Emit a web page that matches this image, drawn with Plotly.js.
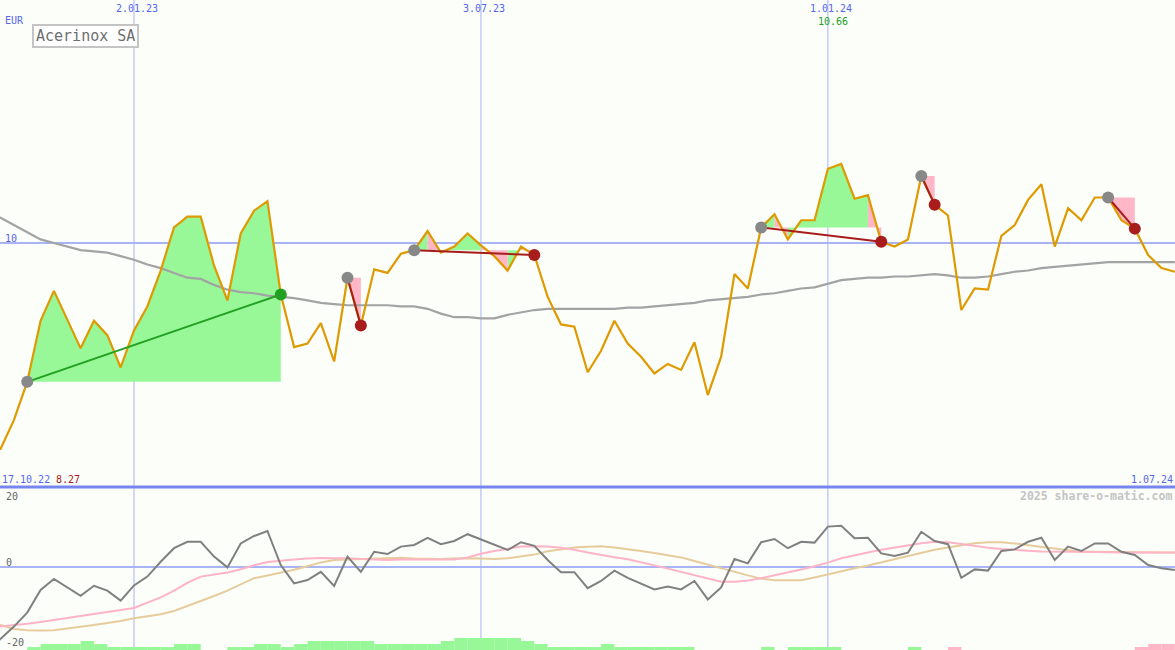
<!DOCTYPE html>
<html><head><meta charset="utf-8">
<script src="https://cdn.plot.ly/plotly-3.0.1.min.js"></script>
<style>html,body{margin:0;padding:0;background:#fbfef9;}#chart{width:1175px;height:650px;}</style>
</head><body><div id="chart"></div>
<script>
const dates = [
'2022-10-17','2022-10-24','2022-10-31','2022-11-07','2022-11-14','2022-11-21','2022-11-28','2022-12-05','2022-12-12','2022-12-19',
'2022-12-26','2023-01-02','2023-01-09','2023-01-16','2023-01-23','2023-01-30','2023-02-06','2023-02-13','2023-02-20','2023-02-27',
'2023-03-06','2023-03-13','2023-03-20','2023-03-27','2023-04-03','2023-04-10','2023-04-17','2023-04-24','2023-05-01','2023-05-08',
'2023-05-15','2023-05-22','2023-05-29','2023-06-05','2023-06-12','2023-06-19','2023-06-26','2023-07-03','2023-07-10','2023-07-17',
'2023-07-24','2023-07-31','2023-08-07','2023-08-14','2023-08-21','2023-08-28','2023-09-04','2023-09-11','2023-09-18','2023-09-25',
'2023-10-02','2023-10-09','2023-10-16','2023-10-23','2023-10-30','2023-11-06','2023-11-13','2023-11-20','2023-11-27','2023-12-04',
'2023-12-11','2023-12-18','2023-12-25','2024-01-01','2024-01-08','2024-01-15','2024-01-22','2024-01-29','2024-02-05','2024-02-12',
'2024-02-19','2024-02-26','2024-03-04','2024-03-11','2024-03-18','2024-03-25','2024-04-01','2024-04-08','2024-04-15','2024-04-22',
'2024-04-29','2024-05-06','2024-05-13','2024-05-20','2024-05-27','2024-06-03','2024-06-10','2024-06-17','2024-06-24','2024-07-01'];

const price = [
8.27,8.28,8.52,8.84,9.35,9.60,9.36,9.12,9.35,9.23,
8.96,9.27,9.47,9.77,10.13,10.22,10.22,9.81,9.52,10.08,
10.27,10.35,9.57,9.13,9.16,9.33,9.01,9.71,9.31,9.78,
9.75,9.91,9.94,10.10,9.92,9.97,10.08,9.98,9.89,9.77,
9.97,9.90,9.55,9.32,9.30,8.92,9.10,9.35,9.16,9.05,
8.91,8.99,8.94,9.17,8.73,9.05,9.74,9.62,10.13,10.24,
10.03,10.19,10.19,10.62,10.66,10.37,10.40,10.01,9.97,10.03,
10.56,10.32,10.23,9.44,9.62,9.61,10.06,10.15,10.36,10.49,
9.97,10.29,10.19,10.38,10.38,10.19,10.12,9.90,9.79,9.76];

const movingAvg = [
10.26,10.21,10.15,10.09,10.03,10.00,9.97,9.94,9.93,9.92,
9.89,9.86,9.82,9.79,9.75,9.71,9.70,9.65,9.61,9.59,
9.58,9.56,9.55,9.54,9.52,9.50,9.49,9.48,9.48,9.48,
9.48,9.47,9.47,9.45,9.41,9.38,9.38,9.37,9.37,9.40,
9.42,9.44,9.45,9.45,9.45,9.45,9.45,9.45,9.46,9.46,
9.47,9.48,9.49,9.50,9.52,9.53,9.54,9.55,9.57,9.58,
9.60,9.62,9.63,9.66,9.69,9.70,9.71,9.71,9.72,9.72,
9.73,9.74,9.73,9.71,9.71,9.72,9.74,9.76,9.77,9.79,
9.80,9.81,9.82,9.83,9.84,9.84,9.84,9.84,9.84,9.84];

const oscGray = [
-21,-18,-14.9,-11.4,-5.75,-3,-5.1,-7.2,-4.7,-5.9,
-8.4,-4.6,-2.4,1.3,4.7,6.3,6.3,2.6,-0.1,5.9,
7.75,9,0.5,-4.1,-3.25,-1.2,-4.75,2.6,-1.2,3.8,
3.25,5.1,5.5,7.3,5.7,6.5,8.2,6.9,5.7,4.25,
6.2,5.3,1.75,-1.3,-1.3,-5.3,-3.5,-0.9,-2.7,-4.1,
-5.6,-4.9,-5.6,-3.5,-8.1,-5.1,2,0.9,6.2,7,
4.7,6.3,6.1,10.1,10.3,7.2,7.3,3.4,2.75,3.6,
8.8,6.5,5.7,-2.7,-0.6,-0.9,4,4.4,6.3,7.3,
1.75,5.1,4,5.9,5.9,3.8,3,0.5,-0.3,-0.75];

const oscPink = [
-15.2,-14.9,-14.5,-14.2,-13.75,-13.25,-12.8,-12.3,-11.8,-11.3,
-10.8,-10.25,-8.9,-7.6,-5.9,-3.95,-2.4,-1.85,-1.4,-0.55,
0.45,1.25,1.65,1.9,2.1,2.25,2.2,2.2,2.0,1.85,
1.75,1.9,1.9,2.0,1.95,1.9,2.4,3.3,4.0,4.6,
5.1,5.2,5.15,4.8,4.3,3.6,2.95,2.45,1.95,1.25,
0.4,-0.4,-1.2,-1.95,-2.8,-3.7,-3.7,-3.35,-2.8,-2.1,
-1.4,-0.65,0.2,1.1,2.2,3.0,3.65,4.3,4.9,5.5,
5.95,6.3,6.2,5.75,5.25,4.8,4.5,4.2,4.05,3.9,
3.8,3.8,3.8,3.7,3.6,3.6,3.6,3.6,3.6,3.6];

const oscTan = [
-13.5,-14.5,-15.5,-15.8,-15.9,-15.8,-15.4,-15.0,-14.5,-14.0,
-13.5,-12.8,-12.3,-11.8,-11.0,-9.8,-8.6,-7.25,-5.9,-4.3,
-2.8,-2.15,-1.5,-0.7,0.2,1.15,1.75,1.85,1.95,2.1,
2.2,2.3,2.1,1.97,1.97,2.1,2.2,2.1,1.97,2.2,
2.6,3.1,3.95,4.4,4.85,5.05,5.2,4.85,4.5,4.0,
3.5,2.95,2.4,1.5,0.6,-0.35,-1.3,-2.1,-2.9,-3.3,
-3.3,-3.3,-2.6,-1.8,-1.05,-0.3,0.4,1.2,1.95,2.7,
3.55,4.3,4.9,5.45,5.95,6.2,6.2,5.9,5.4,5.0,
4.6,4.2,3.8,3.8,3.8,3.75,3.7,3.7,3.65,3.6];

// signed weekly histogram (positive = green, negative = pink)
const histogram = [
0,0,0,0.75,1.5,1.5,1.5,2.25,1.5,0.75,
0.75,0.75,0.75,0.75,1.5,1.5,0,0,0.75,0.75,
1.5,1.5,0.75,1.5,2.25,2.25,2.25,2.25,2.25,1.5,
1.5,1.5,1.5,1.5,2.25,3,3,3,3,3,
2.25,1.5,0.75,0.75,0.75,0.75,1.5,0.75,0.75,0.75,
0.75,0.75,0.75,0,0,0,0,0,0.75,0,
0.75,0.75,0.75,0.75,0,0,0,0,0,0.75,
0,0,-0.75,0,0,0,0,0,0,0,
0,0,0,0,0,0,-0.75,-1.5,-1.5,0];

// signal periods: [start index, end index]
const signalStart = [3,27,32,58,70,84];
const signalEnd   = [22,28,41,67,71,86];

const gridDates  = ['2023-01-02','2023-07-03','2024-01-01'];
const gridLabels = ['2.01.23','3.07.23','1.01.24'];
const stockName = 'Acerinox SA';
const currency = 'EUR';
const credit = '2025 share-o-matic.com';

const BG = '#fbfef9';
const BLUE = '#5566ee';
const GRID = '#a8b4f6';
const GREENF = '#98f898', PINKF = '#ffb6c6';
const RED = '#a81c1c', GREEN = '#22a022', GRAYDOT = '#888888';
const FONT = 'DejaVu Sans Mono';
const DAY = 86400000;

function fmt(d){const p=d.split('-');return String(+p[2])+'.'+p[1]+'.'+p[0].slice(2);}

// fills between price path and start level
const fG={x:[],y:[]}, fP={x:[],y:[]};
signalStart.forEach((s,n)=>{
  const e=signalEnd[n], base=price[s];
  let k=s;
  while(k<e){
    const up=price[k+1]>=base;
    let m=k;
    while(m<e && (price[m+1]>=base)===up) m++;
    const t=up?fG:fP;
    t.x.push(dates[k]); t.y.push(base);
    for(let j=k;j<=m;j++){t.x.push(dates[j]); t.y.push(price[j]);}
    t.x.push(dates[m]); t.y.push(base);
    t.x.push(null); t.y.push(null);
    k=m;
  }
});

const traces=[];
traces.push({x:fG.x,y:fG.y,type:'scatter',mode:'lines',fill:'toself',fillcolor:GREENF,line:{width:0,color:GREENF},hoverinfo:'skip',connectgaps:false});
traces.push({x:fP.x,y:fP.y,type:'scatter',mode:'lines',fill:'toself',fillcolor:PINKF,line:{width:0,color:PINKF},hoverinfo:'skip',connectgaps:false});
traces.push({x:dates,y:movingAvg,type:'scatter',mode:'lines',line:{color:'#a3a3a3',width:2.2}});
traces.push({x:dates,y:price,type:'scatter',mode:'lines',line:{color:'#de9a00',width:2.2}});
signalStart.forEach((s,n)=>{
  const e=signalEnd[n]; const gain=price[e]>price[s];
  traces.push({x:[dates[s],dates[e]],y:[price[s],price[e]],type:'scatter',mode:'lines',line:{color:gain?GREEN:RED,width:2}});
});
traces.push({x:signalStart.map(i=>dates[i]),y:signalStart.map(i=>price[i]),type:'scatter',mode:'markers',marker:{size:12,color:GRAYDOT,line:{width:0}}});
traces.push({x:signalEnd.map(i=>dates[i]),y:signalEnd.map(i=>price[i]),type:'scatter',mode:'markers',
  marker:{size:12,color:signalEnd.map((e,n)=>price[e]>price[signalStart[n]]?GREEN:RED),line:{width:0}}});

// bottom panel
const y2min=-20.75, y2max=20;
traces.push({x:dates.map(d=>Date.parse(d)+3.5*DAY),y:histogram.map(v=>Math.abs(v)),base:y2min,width:7*DAY,type:'bar',
  marker:{color:histogram.map(v=>v<0?PINKF:GREENF),line:{width:0}},xaxis:'x',yaxis:'y2',hoverinfo:'skip'});
traces.push({x:dates,y:oscTan,type:'scatter',mode:'lines',line:{color:'#e6cc9c',width:2},xaxis:'x',yaxis:'y2'});
traces.push({x:dates,y:oscPink,type:'scatter',mode:'lines',line:{color:'#ffb3c6',width:2},xaxis:'x',yaxis:'y2'});
traces.push({x:dates,y:oscGray,type:'scatter',mode:'lines',line:{color:'#808080',width:2},xaxis:'x',yaxis:'y2'});

const W=1175,H=650;
const px=x=>x/W, py=y=>1-y/H;
const split=py(487);

const shapes=[];
gridDates.forEach(d=>shapes.push({type:'line',xref:'x',yref:'paper',x0:d,x1:d,y0:0,y1:1,line:{color:GRID,width:1},layer:'below'}));
shapes.push({type:'line',xref:'paper',yref:'y',x0:0,x1:1,y0:10,y1:10,line:{color:GRID,width:2},layer:'below'});
shapes.push({type:'line',xref:'paper',yref:'y2',x0:0,x1:1,y0:0,y1:0,line:{color:GRID,width:2},layer:'below'});
shapes.push({type:'line',xref:'paper',yref:'paper',x0:0,x1:1,y0:split,y1:split,line:{color:'#7686ee',width:3},layer:'above'});
shapes.push({type:'rect',xref:'paper',yref:'paper',x0:px(33),x1:px(138),y0:py(25),y1:py(47),line:{color:'#c4c4c4',width:2},fillcolor:'#ffffff',layer:'above'});

const ann=[];
function A(text,x,y,xa,color,size,extra){ann.push(Object.assign({text:text,xref:'paper',yref:'paper',x:x,y:y,xanchor:xa,yanchor:'middle',showarrow:false,borderpad:0,font:{family:FONT,size:size,color:color}},extra||{}));}
A(currency,px(4),py(20),'left',BLUE,10);
gridDates.forEach((d,i)=>ann.push({text:gridLabels[i],xref:'x',yref:'paper',x:d,xshift:3,y:py(9),xanchor:'center',yanchor:'middle',showarrow:false,borderpad:0,font:{family:FONT,size:10,color:BLUE}}));
const maxV=Math.max(...price), maxI=price.indexOf(maxV);
ann.push({text:maxV.toFixed(2),xref:'x',yref:'paper',x:dates[maxI],xshift:-8,y:py(21.5),xanchor:'center',yanchor:'middle',showarrow:false,borderpad:0,font:{family:FONT,size:10,color:GREEN}});
const minV=Math.min(...price);
A(fmt(dates[0]),px(1),py(479),'left',BLUE,10);
A(minV.toFixed(2),px(55),py(479),'left',RED,10);
A(fmt(dates[dates.length-1]),px(1174),py(479),'right',BLUE,10);
A('10',px(4),py(238),'left',BLUE,10);
A('20',px(5),py(496),'left','#666666',10);
A('0',px(5),py(562),'left','#666666',10);
A('-20',px(5),py(642),'left','#666666',10);
A('<b>'+credit+'</b>',px(1173),py(496),'right','#c4c4c4',11.5);
A(stockName,px(85.5),py(36),'center','#6e6e6e',15);

const layout={width:W,height:H,margin:{l:0,r:0,t:0,b:0,pad:0},paper_bgcolor:BG,plot_bgcolor:BG,showlegend:false,
  xaxis:{type:'date',range:['2022-10-23 17:00','2024-07-01 02:00'],visible:false,fixedrange:true},
  yaxis:{domain:[split,1],range:[7.9616,12.030],visible:false,fixedrange:true},
  yaxis2:{domain:[0,split],range:[y2min,y2max],visible:false,fixedrange:true,anchor:'x'},
  shapes:shapes,annotations:ann,hovermode:false};

Plotly.newPlot('chart',traces,layout,{displayModeBar:false,staticPlot:true});
</script></body></html>
